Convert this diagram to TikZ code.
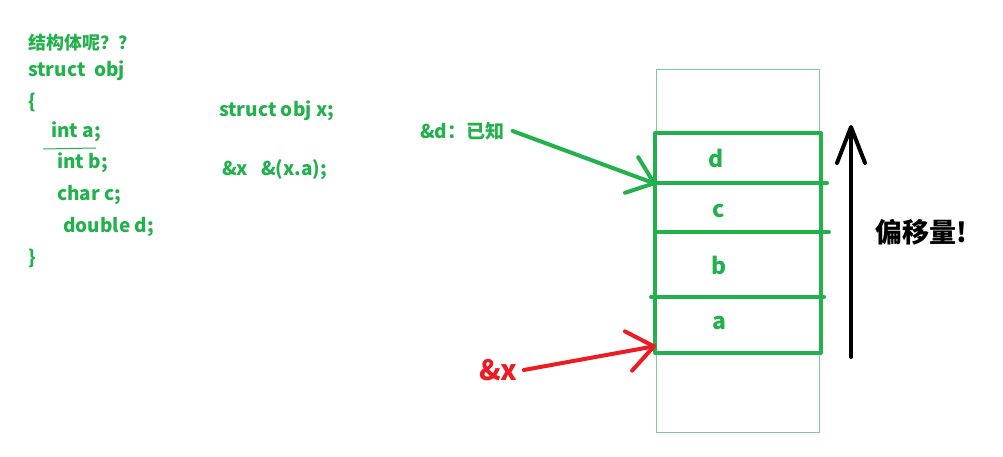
\documentclass[tikz,border=0pt]{standalone}
\usepackage{fontspec}
\setmainfont{Noto Sans CJK SC}
\usetikzlibrary{arrows.meta}
\definecolor{paintgreen}{RGB}{34,177,76}
\definecolor{paintred}{RGB}{237,28,36}
\tikzset{
  code/.style={anchor=west, inner sep=0pt, text=paintgreen,
    font=\fontsize{19}{21}\selectfont\bfseries},
  cell/.style={inner sep=0pt, text=paintgreen,
    font=\fontsize{23}{25}\selectfont\bfseries},
  penline/.style={line width=4pt, line cap=round, line join=round},
  greenarrow/.style={penline, paintgreen, -{Straight Barb[length=24pt,width=38pt,round]}},
  redarrow/.style={penline, paintred, -{Straight Barb[length=26pt,width=40pt,round]}},
  offarrow/.style={penline, black, -{Straight Barb[length=36pt,width=28pt,round]}}
}

\begin{document}
\begin{tikzpicture}[x=1pt, y=-1pt]
  \useasboundingbox (0,0) rectangle (1003,457);
  % struct definition
  \node[code, font=\fontsize{18}{20}\selectfont\bfseries] (q) at (28,43) {结构体呢？？};
  \node[code] (s) at (28,71) {struct\ \ obj};
  \node[code] (lb) at (28,102) {\{};
  \node[code] (ma) at (51,132) {int a;};
  \node[code] (mb) at (57,163) {int b;};
  \node[code] (mc) at (57,195) {char c;};
  \node[code] (md) at (63,227) {double d;};
  \node[code] (rb) at (28,258) {\}};
  \draw[paintgreen, line width=1pt] (43,149) -- (96,148);
  \node[code] (decl) at (219,111) {struct obj x;};
  \node[code] (addr) at (222,170) {\&x\ \ \ \&(x.a);};

  % memory
  \draw[paintgreen!60, line width=1pt] (656,70) rectangle (819,432);
  \draw[paintgreen, penline, line cap=butt] (655,133) rectangle (821,353);
  \draw[paintgreen, penline] (655,183) -- (827,183);
  \draw[paintgreen, penline] (655,232) -- (829,232);
  \draw[paintgreen, penline] (651,297) -- (824,297);
  \node[cell] (cd) at (716,158) {d};
  \node[cell] (cc) at (719,211) {c};
  \node[cell] (cb) at (719,265) {b};
  \node[cell] (ca) at (719,323) {a};

  % pointers
  \node[code] (dlab) at (420,131) {\&d：已知};
  \coordinate (dtip) at (656,184);
  \draw[greenarrow] (dlab.east) ++(8,0) -- (dtip);
  \node[code, text=paintred, font=\fontsize{28}{30}\selectfont\bfseries] (xlab) at (479,370) {\&x};
  \coordinate (xtip) at (656,346);
  \draw[redarrow] (xlab.east) ++(6,0) -- (xtip);

  % offset
  \coordinate (obot) at (851,357);
  \coordinate (otop) at (851,125);
  \draw[offarrow] (obot) -- (otop);
  \node[anchor=west, inner sep=0pt, font=\fontsize{27}{29}\selectfont\bfseries] (off) at (875,232) {偏移量!};
\end{tikzpicture}
\end{document}
